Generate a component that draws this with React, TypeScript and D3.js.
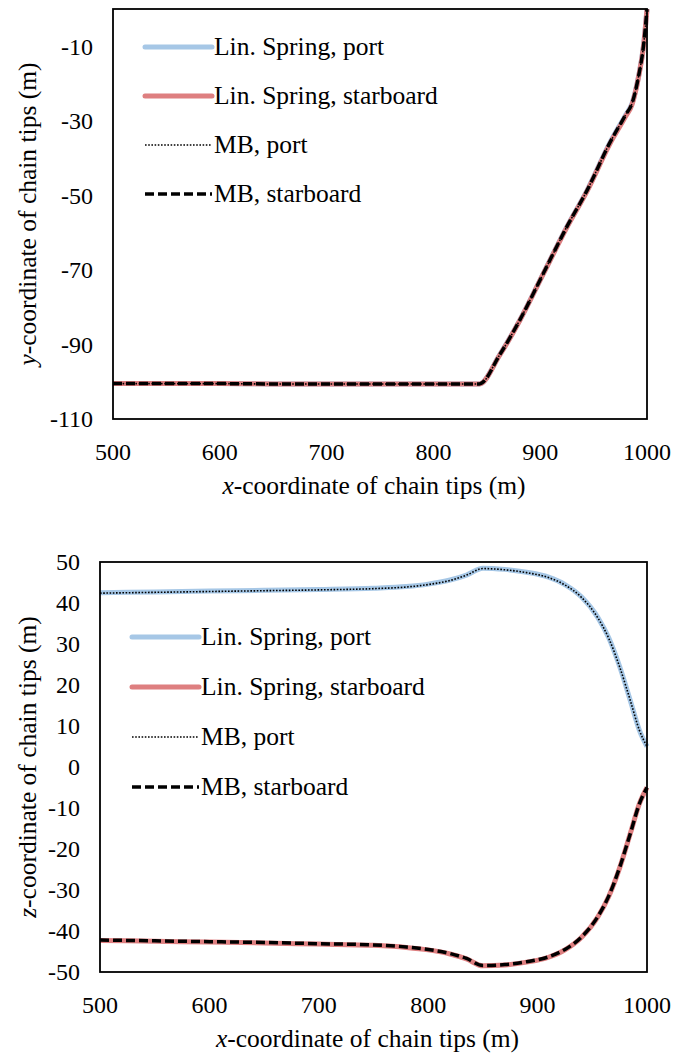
import React from 'react';
import * as d3 from 'd3';

// ---------- shared ----------
const xTickValues = [500, 600, 700, 800, 900, 1000];
const legendLabels = ['Lin. Spring, port', 'Lin. Spring, starboard', 'MB, port', 'MB, starboard'];

// ---------- top chart: y-coordinate ----------
const yTickValues = [-110, -90, -70, -50, -30, -10];
const xTop = [500, 550, 600, 650, 700, 750, 800, 843, 862, 881, 903, 925, 944, 965, 980, 986, 992, 997, 1000];
const yLinPort = [-100.5, -100.5, -100.5, -100.6, -100.6, -100.6, -100.6, -100.6, -92.8, -83.4, -70.9, -58.4, -48.6, -36.0, -28.4, -25.3, -18.2, -9.2, 0];
const yLinStar = [-100.5, -100.5, -100.5, -100.6, -100.6, -100.6, -100.6, -100.6, -92.9, -83.5, -71.0, -58.6, -48.8, -36.3, -28.8, -25.6, -18.4, -9.4, 0];
const yMBPort = [-100.5, -100.5, -100.5, -100.6, -100.6, -100.6, -100.6, -100.6, -92.8, -83.4, -70.9, -58.4, -48.6, -36.0, -28.4, -25.3, -18.2, -9.2, 0];
const yMBStar = [-100.5, -100.5, -100.5, -100.6, -100.6, -100.6, -100.6, -100.6, -92.8, -83.4, -70.9, -58.4, -48.6, -36.0, -28.4, -25.3, -18.2, -9.2, 0];

// ---------- bottom chart: z-coordinate ----------
const zTickValues = [-50, -40, -30, -20, -10, 0, 10, 20, 30, 40, 50];
const xBot = [500, 550, 600, 650, 700, 750, 780, 800, 820, 835, 850, 870, 890, 910, 925, 940, 955, 965, 975, 985, 993, 1000];
const zLinPort = [42.5, 42.7, 42.9, 43.1, 43.3, 43.6, 44.0, 44.6, 45.6, 46.8, 48.5, 48.2, 47.5, 46.3, 44.5, 41.5, 36.5, 31.5, 24.5, 16, 9, 5];
const zLinStar = [-42.3, -42.5, -42.7, -42.9, -43.2, -43.5, -44.0, -44.6, -45.6, -46.8, -48.5, -48.3, -47.6, -46.4, -44.6, -41.6, -36.6, -31.6, -24.6, -16, -9, -5];
const zMBPort = [42.4, 42.6, 42.8, 43.0, 43.2, 43.5, 43.9, 44.5, 45.5, 46.8, 48.4, 48.1, 47.4, 46.2, 44.4, 41.4, 36.4, 31.4, 24.4, 16, 9, 5];
const zMBStar = [-42.2, -42.4, -42.6, -42.8, -43.1, -43.4, -43.9, -44.5, -45.5, -46.7, -48.4, -48.2, -47.5, -46.3, -44.5, -41.5, -36.5, -31.5, -24.5, -16, -9, -5];

const BLUE = '#a6c7e6';
const RED = '#de7f80';

type Style = { stroke: string; width: number; dash?: string };
const styles: Style[] = [
  { stroke: BLUE, width: 5 },
  { stroke: RED, width: 5 },
  { stroke: '#000', width: 1.6, dash: '1.6,1.6' },
  { stroke: '#000', width: 3.5, dash: '9,4' },
];

type ChartSpec = {
  key: string;
  left: number; right: number; top: number; bottom: number;
  yDomain: [number, number];
  yTicks: number[];
  xs: number[];
  series: number[][];
  letter: string;
  legendX: number; legendY: number; legendStep: number;
};

function renderChart(p: ChartSpec) {
  const x = d3.scaleLinear().domain([500, 1000]).range([p.left, p.right]);
  const y = d3.scaleLinear().domain(p.yDomain).range([p.bottom, p.top]);
  const line = d3.line<number>()
    .x((_, i) => x(p.xs[i]))
    .y((d) => y(d))
    .curve(d3.curveMonotoneX);
  const titleX = (p.left + p.right) / 2 - 6;
  const k = p.key;
  const out: React.ReactNode[] = [];
  p.series.forEach((s, i) => {
    out.push(
      <path key={`${k}-s${i}`} d={line(s) || ''} fill="none" stroke={styles[i].stroke}
        strokeWidth={styles[i].width} strokeDasharray={styles[i].dash} strokeLinejoin="round" />
    );
  });
  out.push(
    <rect key={`${k}-frame`} x={p.left} y={p.top} width={p.right - p.left} height={p.bottom - p.top}
      fill="none" stroke="#000" strokeWidth={1.8} />
  );
  p.yTicks.forEach((t) => {
    out.push(
      <text key={`${k}-y${t}`} x={p.left - 20} y={y(t)} dy="0.35em" textAnchor="end"
        style={{ fontFamily: "'Liberation Serif'", fontSize: 24 }}>{String(t)}</text>
    );
  });
  xTickValues.forEach((t) => {
    out.push(
      <text key={`${k}-x${t}`} x={x(t)} y={p.bottom + 41} textAnchor="middle"
        style={{ fontFamily: "'Liberation Serif'", fontSize: 24 }}>{String(t)}</text>
    );
  });
  out.push(
    <text key={`${k}-xt`} x={titleX} y={p.bottom + 75} textAnchor="middle"
      style={{ fontFamily: "'Liberation Serif'", fontSize: 25.5 }}>
      <tspan fontStyle="italic">x</tspan>-coordinate of chain tips (m)
    </text>
  );
  out.push(
    <text key={`${k}-yt`} transform={`translate(36,${(p.top + p.bottom) / 2}) rotate(-90)`} textAnchor="middle"
      style={{ fontFamily: "'Liberation Serif'", fontSize: 25.5 }}>
      <tspan fontStyle="italic">{p.letter}</tspan>-coordinate of chain tips (m)
    </text>
  );
  legendLabels.forEach((lab, i) => {
    const ly = p.legendY + i * p.legendStep;
    out.push(
      <line key={`${k}-ll${i}`} x1={p.legendX} x2={p.legendX + 67} y1={ly} y2={ly}
        stroke={styles[i].stroke} strokeWidth={styles[i].width}
        strokeDasharray={styles[i].dash} strokeLinecap={i < 2 ? 'round' : 'butt'} />
    );
    out.push(
      <text key={`${k}-lt${i}`} x={p.legendX + 69} y={ly} dy="0.33em"
        style={{ fontFamily: "'Liberation Serif'", fontSize: 25.5 }}>{lab}</text>
    );
  });
  return out;
}

export default function App() {
  const top = renderChart({
    key: 'c1', left: 113, right: 647, top: 9, bottom: 419,
    yDomain: [-110, 0], yTicks: yTickValues, xs: xTop,
    series: [yLinPort, yLinStar, yMBPort, yMBStar], letter: 'y',
    legendX: 145, legendY: 47, legendStep: 49,
  });
  const bottom = renderChart({
    key: 'c2', left: 100, right: 647, top: 562, bottom: 972,
    yDomain: [-50, 50], yTicks: zTickValues, xs: xBot,
    series: [zLinPort, zLinStar, zMBPort, zMBStar], letter: 'z',
    legendX: 132, legendY: 637, legendStep: 50,
  });
  return (
    <svg width={675} height={1057} style={{ position: 'absolute', left: 0, top: 0, background: '#fff' }}>
      {top}
      {bottom}
    </svg>
  );
}
